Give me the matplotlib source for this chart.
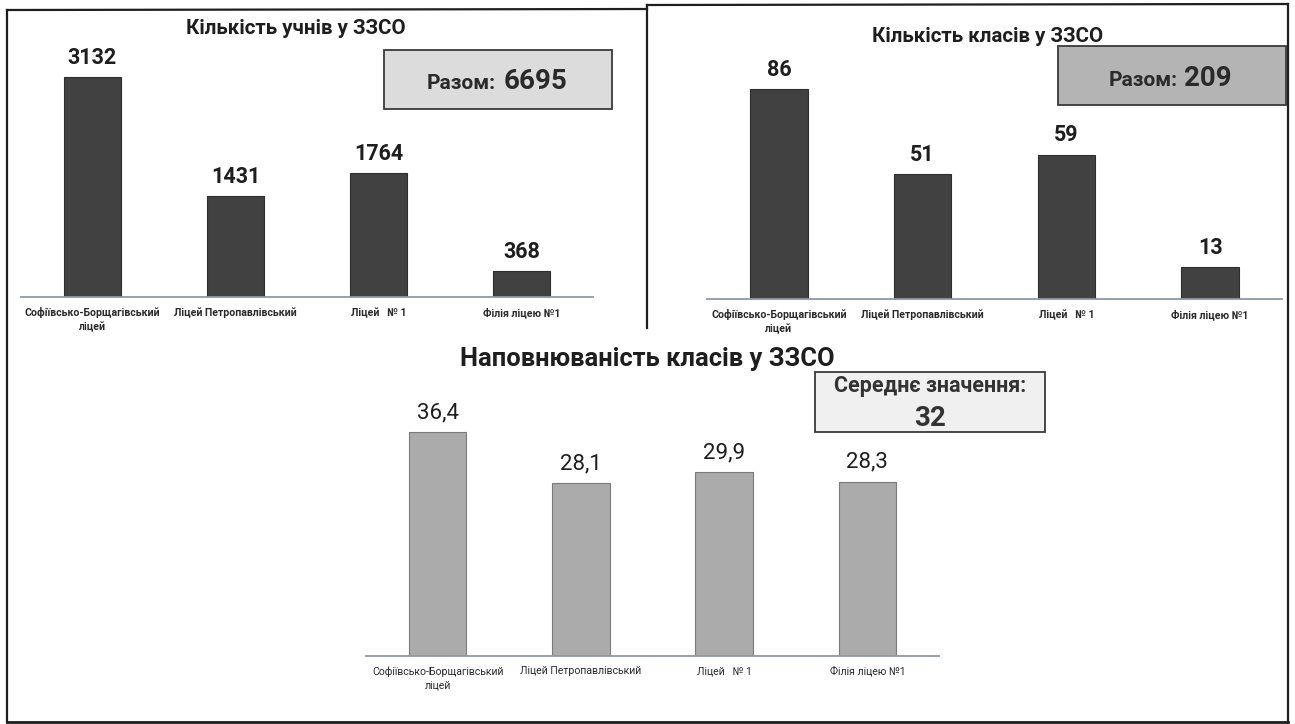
import matplotlib
matplotlib.use("Agg")
import matplotlib.pyplot as plt
from matplotlib.patches import Rectangle
from matplotlib.lines import Line2D

plt.rcParams['font.family'] = ['Roboto', 'DejaVu Sans']

# ---------------- data ----------------
schools = ["Софіївсько-Борщагівський\nліцей", "Ліцей Петропавлівський",
           "Ліцей   № 1", "Філія ліцею №1"]
students = [3132, 1431, 1764, 368]
classes = [86, 51, 59, 13]
fill_rate = [36.4, 28.1, 29.9, 28.3]

title_students = "Кількість учнів у ЗЗСО"
title_classes = "Кількість класів у ЗЗСО"
title_fill = "Наповнюваність класів у ЗЗСО"
total_label = "Разом:"
total_students = "6695"
total_classes = "209"
avg_label = "Середнє значення:"
avg_value = "32"

# ---------------- figure ----------------
W, H = 1295, 724
fig = plt.figure(figsize=(W / 100, H / 100), dpi=100)
fig.patch.set_facecolor("white")


def fx(x):
    return x / W


def fy(y):
    return 1 - y / H


def ax_px(x0, ytop, x1, ybot):
    return fig.add_axes([fx(x0), fy(ybot), (x1 - x0) / W, (ybot - ytop) / H])


def line(x0, y0, x1, y1, lw=1.6, color="#1e1e1e"):
    fig.add_artist(Line2D([fx(x0), fx(x1)], [fy(y0), fy(y1)], lw=lw, color=color,
                          transform=fig.transFigure))


def rect(x0, y0, x1, y1, fc, ec="#3a3a3a", lw=1.3):
    fig.add_artist(Rectangle((fx(x0), fy(y1)), (x1 - x0) / W, (y1 - y0) / H,
                             facecolor=fc, edgecolor=ec, lw=lw,
                             transform=fig.transFigure))


def bar_chart(ax, values, ymax, color, edge, labels_fmt, vfont, vbold, tick_bold,
              tick_size):
    x = range(len(values))
    ax.bar(x, values, width=0.4, color=color, edgecolor=edge, linewidth=0.8, zorder=2)
    ax.set_xlim(-0.5, len(values) - 0.5)
    ax.set_ylim(0, ymax)
    for s in ["top", "left", "right"]:
        ax.spines[s].set_visible(False)
    ax.spines["bottom"].set_color("#8e98a4")
    ax.spines["bottom"].set_linewidth(1.3)
    ax.set_yticks([])
    ax.set_xticks(list(x))
    ax.set_xticklabels(schools, fontsize=tick_size,
                       fontweight="bold" if tick_bold else "normal",
                       color="#2a2a2a", linespacing=1.45)
    ax.tick_params(axis="x", length=0, pad=7.5)
    ax.patch.set_alpha(0)
    for i, v in enumerate(values):
        ax.annotate(labels_fmt(v), (i, v), xytext=(0, 14), textcoords="offset points",
                    ha="center", va="center", fontsize=vfont,
                    fontweight="bold" if vbold else "normal", color="#1e1e1e",
                    annotation_clip=False)


# ---- left chart: students ----
ax1 = ax_px(21, 40, 593, 297)
bar_chart(ax1, students, (297 - 40) * 3132 / 220, "#414141", "#2e2e2e",
          lambda v: f"{v}", 15.5, True, True, 7.6)

# ---- right chart: classes ----
ax2 = ax_px(707, 40, 1282, 299)
bar_chart(ax2, classes, (299 - 40) * 86 / 210, "#414141", "#2e2e2e",
          lambda v: f"{v}", 15.5, True, True, 7.6)

# ---- bottom chart: fill rate ----
ax3 = ax_px(366, 380, 939, 656)
bar_chart(ax3, fill_rate, (656 - 380) * 36.4 / 224, "#ababab", "#7a7a7a",
          lambda v: f"{v:.1f}".replace(".", ","), 16, False, False, 7.6)

# ---- titles ----
fig.text(fx(296), fy(29), title_students, ha="center", va="center",
         fontsize=14.8, fontweight="bold", color="#1e1e1e")
fig.text(fx(988), fy(36), title_classes, ha="center", va="center",
         fontsize=14.8, fontweight="bold", color="#1e1e1e")
fig.text(fx(647), fy(359), title_fill, ha="center", va="center",
         fontsize=18.4, fontweight="bold", color="#1e1e1e")

# ---- boxes ----
rect(384, 50, 612, 109, "#dcdcdc")
fig.text(fx(496), fy(89), total_label, ha="right", va="baseline",
         fontsize=15, fontweight="bold", color="#2a2a2a")
fig.text(fx(504), fy(89), total_students, ha="left", va="baseline",
         fontsize=20, fontweight="bold", color="#2a2a2a")

rect(1058, 46, 1286, 105, "#b4b4b4")
fig.text(fx(1178), fy(86), total_label, ha="right", va="baseline",
         fontsize=15, fontweight="bold", color="#2a2a2a")
fig.text(fx(1184), fy(86), total_classes, ha="left", va="baseline",
         fontsize=20, fontweight="bold", color="#2a2a2a")

rect(815, 372, 1045, 432, "#f0f0f0")
fig.text(fx(930), fy(386), avg_label, ha="center", va="center",
         fontsize=15.5, fontweight="bold", color="#333333")
fig.text(fx(930), fy(418), avg_value, ha="center", va="center",
         fontsize=20, fontweight="bold", color="#333333")

# ---- frame lines ----
line(7, 10, 647, 9)
line(647, 5, 1288, 4)
line(7, 10, 7, 722)
line(1288, 4, 1288, 722)
line(7, 722, 1288, 722, lw=2.0)
line(647, 5, 647, 328)

fig.savefig("out.png", dpi=100)
